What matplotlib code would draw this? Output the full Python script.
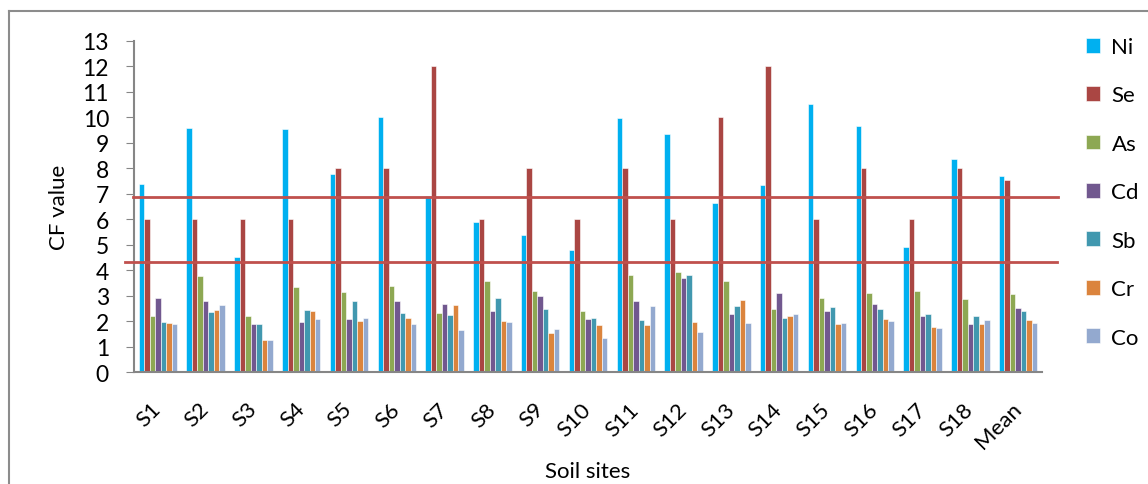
import numpy as np
import matplotlib
matplotlib.use("Agg")
import matplotlib.pyplot as plt
from matplotlib.lines import Line2D

plt.rcParams['font.family'] = ['Lato', 'DejaVu Sans']

sites = ["S1","S2","S3","S4","S5","S6","S7","S8","S9","S10",
         "S11","S12","S13","S14","S15","S16","S17","S18","Mean"]
metals = ["Ni","Se","As","Cd","Sb","Cr","Co"]
colors = ["#00B0F0","#AA4643","#8DA853","#71588F","#4198AF","#DB843D","#93A9CF"]

ni = [7.37,9.59,4.52,9.55,7.76,10.0,6.91,5.91,5.40,4.81,9.97,9.35,6.64,7.35,10.5,9.65,4.93,8.36,7.70]
se = [6,6,6,6,8,8,12,6,8,6,8,6,10,12,6,8,6,8,7.54]
as_ = [2.2,3.76,2.2,3.33,3.14,3.37,2.31,3.59,3.19,2.42,3.82,3.92,3.59,2.5,2.93,3.1,3.2,2.87,3.07]
cd = [2.9,2.8,1.89,1.98,2.09,2.78,2.69,2.39,2.99,2.09,2.78,3.69,2.29,3.1,2.39,2.69,2.2,1.89,2.52]
sb = [1.98,2.35,1.89,2.44,2.78,2.34,2.25,2.9,2.48,2.14,2.04,3.83,2.59,2.14,2.55,2.5,2.29,2.2,2.42]
cr = [1.93,2.46,1.27,2.39,2.02,2.14,2.64,2.02,1.55,1.84,1.86,1.98,2.85,2.22,1.89,2.09,1.76,1.89,2.06]
co = [1.88,2.65,1.27,2.09,2.14,1.91,1.66,1.96,1.69,1.33,2.59,1.57,1.94,2.3,1.94,2.02,1.72,2.06,1.94]
series = [ni, se, as_, cd, sb, cr, co]

# reference lines
levels = [6.86, 4.31]

W, H = 1148, 485
fig = plt.figure(figsize=(W/100, H/100), dpi=100)
ax = fig.add_axes([134/W, 1-373.3/H, (1042-134)/W, (373.3-41.7)/H])

x = np.arange(len(sites))
bw = 0.115
for i, (name, vals) in enumerate(zip(metals, series)):
    ax.bar(x + (i-3)*bw, vals, bw, color=colors[i], label=name,
           edgecolor='white', linewidth=0.4)

ax.set_xlim(-0.5, len(sites)-0.5)
ax.set_ylim(0, 13)
ax.set_yticks(range(0, 14))
ax.tick_params(axis='y', labelsize=16.5, length=6, color='#868686', pad=12)
ax.tick_params(axis='x', length=0, pad=24)
ax.set_xticks(x)
ax.set_xticklabels(sites, rotation=45, ha='right', va='center',
                   rotation_mode='anchor', fontsize=16)

for s in ['top', 'right']:
    ax.spines[s].set_visible(False)
for s in ['left', 'bottom']:
    ax.spines[s].set_color('#868686')
    ax.spines[s].set_linewidth(1.5)

ax.set_ylabel("CF value", fontsize=16, labelpad=10)
ax.set_xlabel("Soil sites", fontsize=16, labelpad=6)

# horizontal reference lines drawn past the plot area
fig.add_artist(Line2D([133/W, 1058/W], [1-(373.3-levels[0]*25.5)/H]*2,
                      color='#C0504D', lw=2))
fig.add_artist(Line2D([125/W, 1057/W], [1-(373.3-levels[1]*25.5)/H]*2,
                      color='#C0504D', lw=2))

# outer frame (left and top)
fig.add_artist(Line2D([9/W, 9/W], [0, 1-12/H], color='#8c8c8c', lw=1.5))
fig.add_artist(Line2D([9/W, 1], [1-12/H, 1-12/H], color='#8c8c8c', lw=1.5))

fig.legend(loc='upper left', bbox_to_anchor=(1077/W, 1-29/H), frameon=False,
           fontsize=16, handlelength=0.65, handleheight=0.65, handletextpad=0.5,
           labelspacing=1.28, borderaxespad=0)

fig.savefig("out.png", dpi=100)
